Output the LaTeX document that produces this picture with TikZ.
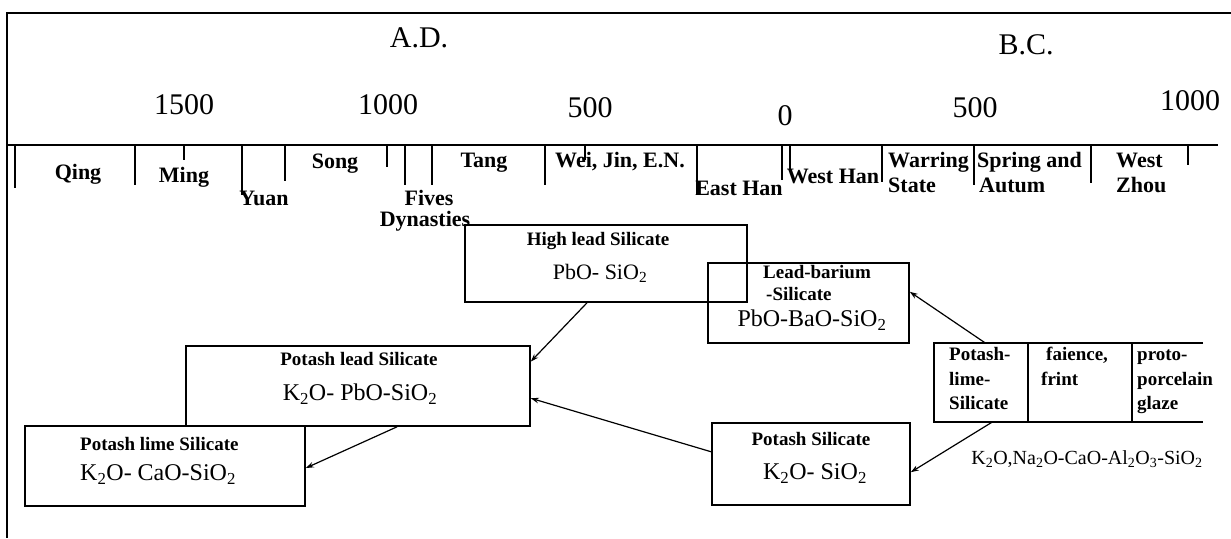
\documentclass[tikz,border=0pt]{standalone}
\usepackage{fontspec}
\setmainfont{Liberation Serif}
\usetikzlibrary{arrows.meta,fit,calc}
\newcommand{\fNum}{\fontsize{30}{36}\selectfont}
\newcommand{\fTl}{\fontsize{22}{26}\selectfont\bfseries}
\newcommand{\fBx}{\fontsize{19}{23}\selectfont\bfseries}
\newcommand{\fFm}{\fontsize{24}{28}\selectfont}
\newcommand{\fFs}{\fontsize{22}{26}\selectfont}
\newcommand{\fFt}{\fontsize{20}{24}\selectfont}
\newcommand{\mysub}[1]{\textsubscript{#1}}
\begin{document}
\begin{tikzpicture}[x=1pt,y=-1pt,
  frameline/.style={line width=1.3pt},
  axisline/.style={line width=1.8pt},
  tickline/.style={line width=1.3pt},
  box/.style={draw, line width=1.6pt, inner sep=0pt},
  lbl/.style={inner sep=0pt, text height=0.68em, text depth=0.22em},
  num/.style={lbl, font=\fNum},
  tl/.style={lbl, font=\fTl},
  bx/.style={lbl, font=\fBx},
  fm/.style={lbl, font=\fFm},
  conn/.style={line width=1.2pt, -{Stealth[length=8pt,width=5.5pt]}}]
\useasboundingbox (0,0) rectangle (1231,538);
% frame
\coordinate (fTL) at (7,13);
\coordinate (fTR) at (1231,13);
\coordinate (fBL) at (7,538);
\draw[frameline] (fTR) -- (fTL) -- (fBL);
% axis
\coordinate (axL) at (7,145);
\coordinate (axR) at (1218,145);
\draw[axisline] (axL) -- (axR);
\foreach \x/\yb in {15/188,135/185,184/160,242/195,285/181,387/167,405/185,432/185,545/185,585/160,697/195,782/180,790/171,882/182,974/185,1091/183,1188/165}
  \draw[tickline] (\x,145) -- (\x,\yb);
% era and years
\node[num] (ad) at (419,45) {A.D.};
\node[num] (bc) at (1026,52) {B.C.};
\node[num] (n1500) at (184,112) {1500};
\node[num] (n1000a) at (388,112) {1000};
\node[num] (n500a) at (590,115) {500};
\node[num] (n0) at (785,123) {0};
\node[num] (n500b) at (975,115) {500};
\node[num] (n1000b) at (1190,108) {1000};
% dynasties
\node[tl] (qing) at (78,177) {Qing};
\node[tl] (ming) at (184,180) {Ming};
\node[tl] (yuan) at (264,203) {Yuan};
\node[tl] (song) at (335,166) {Song};
\node[tl] (fives) at (429,203) {Fives};
\node[tl] (dyn) at (425,224) {Dynasties};
\node[tl] (tang) at (484,165) {Tang};
\node[tl] (wei) at (620,165) {Wei, Jin, E.N.};
\node[tl] (ehan) at (739,193) {East Han};
\node[tl] (whan) at (833,181) {West Han};
\node[tl, anchor=west] (warr) at (888,165) {Warring};
\node[tl, anchor=west] (state) at (888,190) {State};
\node[tl, anchor=west] (spring) at (977,165) {Spring and};
\node[tl, anchor=west] (autum) at (979,190) {Autum};
\node[tl, anchor=west] (west) at (1116,165) {West};
\node[tl, anchor=west] (zhou) at (1116,190) {Zhou};
% boxes
\node[box, fit={(465,225) (747,302)}] (hl) {};
\node[box, fit={(708,263) (909,343)}] (lb) {};
\node[box, fit={(186,346) (530,426)}] (pl) {};
\node[box, fit={(25,426) (305,506)}] (plime) {};
\node[box, fit={(712,423) (910,505)}] (ps) {};
\node[inner sep=0pt, fit={(934,343) (1203,422)}] (tb) {};
\draw[box] (tb.north east) -- (tb.north west) -- (tb.south west) -- (tb.south east);
\draw[box] ($(tb.north west)+(94,0)$) -- ($(tb.south west)+(94,0)$);
\draw[box] ($(tb.north west)+(198,0)$) -- ($(tb.south west)+(198,0)$);
% box texts
\node[bx] (hlT) at (598,243) {High lead Silicate};
\node[lbl, font=\fFs] (hlF) at (600,277) {PbO- SiO\mysub{2}};
\node[bx] (lbT1) at (817,276) {Lead-barium};
\node[bx, anchor=west] (lbT2) at (766,298) {-Silicate};
\node[fm] (lbF) at (812,324) {PbO-BaO-SiO\mysub{2}};
\node[bx] (plT) at (359,363) {Potash lead Silicate};
\node[fm] (plF) at (360,398) {K\mysub{2}O- PbO-SiO\mysub{2}};
\node[bx, anchor=west] (plimeT) at (80,448) {Potash lime Silicate};
\node[fm, anchor=west] (plimeF) at (80,478) {K\mysub{2}O- CaO-SiO\mysub{2}};
\node[bx] (psT) at (811,443) {Potash Silicate};
\node[fm] (psF) at (815,477) {K\mysub{2}O- SiO\mysub{2}};
\node[bx, anchor=west] (c1a) at (949,358) {Potash-};
\node[bx, anchor=west] (c1b) at (949,383) {lime-};
\node[bx, anchor=west] (c1c) at (949,407) {Silicate};
\node[bx, anchor=west] (c2a) at (1046,358) {faience,};
\node[bx, anchor=west] (c2b) at (1041,383) {frint};
\node[bx, anchor=west] (c3a) at (1137,358) {proto-};
\node[bx, anchor=west] (c3b) at (1137,383) {porcelain};
\node[bx, anchor=west] (c3c) at (1137,407) {glaze};
\node[lbl, font=\fFt] (tbF) at (1087,462) {K\mysub{2}O,Na\mysub{2}O-CaO-Al\mysub{2}O\mysub{3}-SiO\mysub{2}};
% connectors
\draw[conn] ($(hl.south west)!0.433!(hl.south east)$) -- ($(pl.north east)!0.2!(pl.south east)$);
\draw[conn] ($(pl.south west)!0.613!(pl.south east)$) -- ($(plime.north east)!0.525!(plime.south east)$);
\draw[conn] ($(ps.north west)!0.354!(ps.south west)$) -- ($(pl.north east)!0.65!(pl.south east)$);
\draw[conn] ($(tb.north west)!0.19!(tb.north east)$) -- ($(lb.north east)!0.3625!(lb.south east)$);
\draw[conn] ($(tb.south west)!0.216!(tb.south east)$) -- ($(ps.north east)!0.598!(ps.south east)$);
\end{tikzpicture}
\end{document}
